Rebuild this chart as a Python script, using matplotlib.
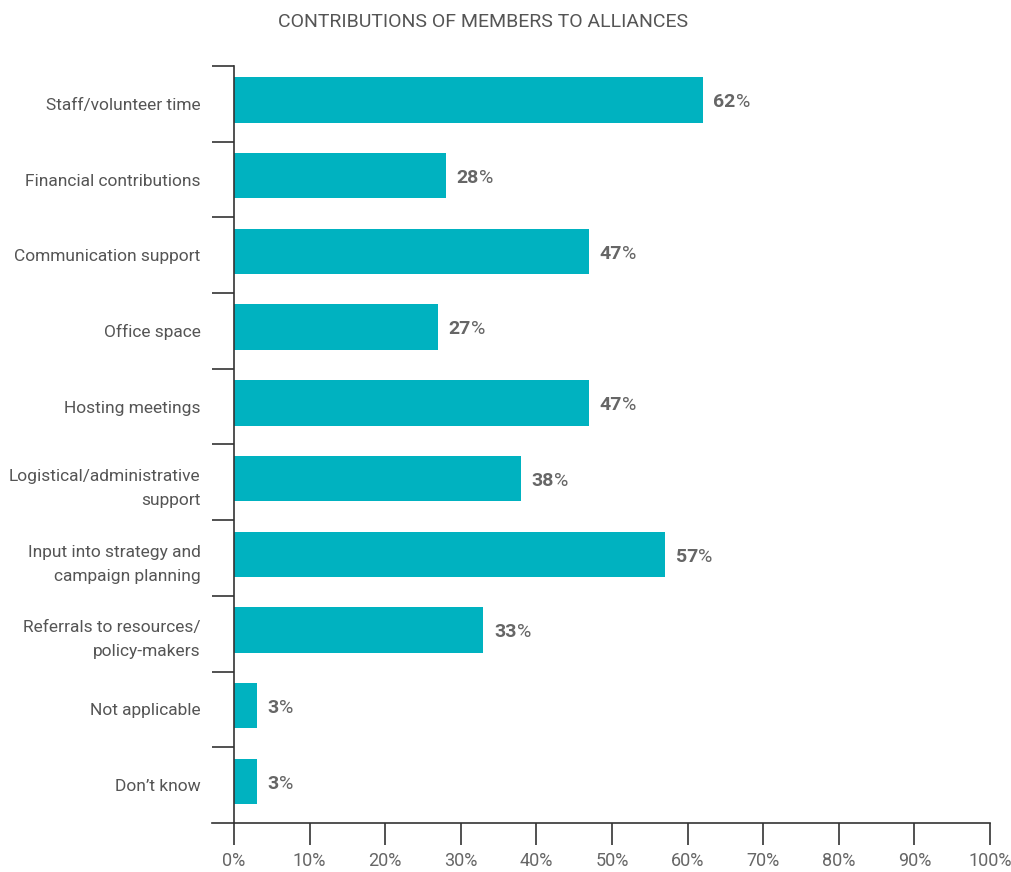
import numpy as np
import matplotlib
matplotlib.use("Agg")
import matplotlib.pyplot as plt
from matplotlib.lines import Line2D

plt.rcParams['font.family'] = ['Roboto', 'DejaVu Sans']

# data
categories = ["Staff/volunteer time", "Financial contributions", "Communication support",
              "Office space", "Hosting meetings", "Logistical/administrative\nsupport",
              "Input into strategy and\ncampaign planning", "Referrals to resources/\npolicy-makers",
              "Not applicable", "Don\u2019t know"]
values = [62, 28, 47, 27, 47, 38, 57, 33, 3, 3]
xticks = [0, 10, 20, 30, 40, 50, 60, 70, 80, 90, 100]
xlabels = [f"{t}%" for t in xticks]

teal = "#00B2C0"
grey = "#666666"
axcol = "#333333"

fig = plt.figure(figsize=(10.12, 8.72), dpi=100)
ax = fig.add_axes([234/1012, 49/872, 756/1012, 757/872])

n = len(categories)
y = np.arange(n)
ax.barh(y - 0.05, values, height=0.6, color=teal, zorder=2)
ax.set_ylim(n - 0.5, -0.5)
ax.set_xlim(0, 100)

for s in ["top", "right"]:
    ax.spines[s].set_visible(False)
ax.spines["left"].set_color(axcol)
ax.spines["bottom"].set_color(axcol)
ax.spines["left"].set_linewidth(1.2)
ax.spines["bottom"].set_linewidth(1.2)

# x axis line extends to the left
ax.add_line(Line2D([-22/756, 0], [0, 0], transform=ax.transAxes, color=axcol,
                   lw=1.2, clip_on=False))

ax.set_xticks(xticks)
ax.set_xticklabels(xlabels, fontsize=13, color=grey)
ax.tick_params(axis="x", direction="out", length=16, width=1.2, color=axcol, pad=5)

ax.set_yticks(y)
ax.set_yticklabels(categories, fontsize=12.5, color="#555555", linespacing=1.75)
ax.tick_params(axis="y", which="major", length=0, pad=24)
ax.set_yticks(np.arange(n) - 0.5, minor=True)
ax.tick_params(axis="y", which="minor", length=16, width=1.2, color=axcol)

for yi, v in zip(y, values):
    t = ax.text(v + 1.4, yi - 0.02, f"{v}", fontsize=14, fontweight="bold", color=grey,
                va="center", ha="left")
    ax.annotate("%", xy=(1, 0), xycoords=t, va="bottom", ha="left",
                fontsize=14, color=grey)

fig.text(483/1012, 1 - 22/872, "CONTRIBUTIONS OF MEMBERS TO ALLIANCES", ha="center",
         va="center", fontsize=14, color="#555555")

fig.savefig("out.png", dpi=100)
